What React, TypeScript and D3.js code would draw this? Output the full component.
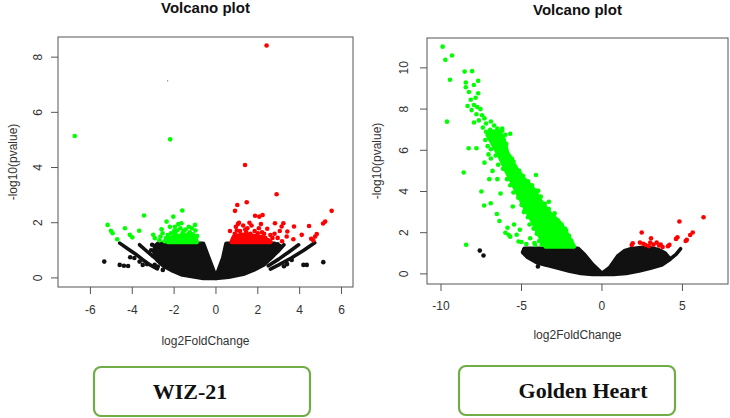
import React from "react";
import * as d3 from "d3";

type Pt = [number, number];

// ---------- WIZ-21 ----------
const wizTicksX = [-6, -4, -2, 0, 2, 4, 6];
const wizTicksY = [0, 2, 4, 6, 8];

// dense non-significant genes, outlined as regions
const wizBlackLeft: Pt[] = [
  [-0.62, 1.24], [-0.35, 0.7], [0, 0], [-0.6, 0.0], [-1.1, 0.06], [-1.6, 0.12],
  [-2.05, 0.26], [-2.45, 0.42], [-2.8, 0.66], [-2.95, 0.95], [-2.9, 1.15], [-2.75, 1.24],
];
const wizBlackRight: Pt[] = [
  [0, 0], [0.35, 0.72], [0.5, 1.24], [2.8, 1.24], [2.9, 1.08], [2.7, 0.8],
  [2.3, 0.5], [1.8, 0.3], [1.3, 0.15], [0.6, 0.04],
];
const wizStreaks: Pt[][] = [
  [[-4.6, 1.26], [-4.2, 1.05], [-3.85, 0.87], [-3.5, 0.66], [-3.15, 0.47], [-2.8, 0.33]],
  [[-3.65, 1.2], [-3.25, 0.93], [-2.85, 0.68], [-2.45, 0.4]],
  [[4.72, 1.27], [4.2, 1.0], [3.6, 0.72], [3.0, 0.47], [2.6, 0.32]],
  [[3.95, 1.2], [3.5, 0.95], [3.0, 0.68], [2.5, 0.44]],
  [[3.25, 1.2], [2.95, 0.95], [2.6, 0.7]],
];
const wizBlack: Pt[] = [
  [-5.34, 0.59], [-4.6, 0.47], [-4.4, 0.44], [-4.2, 0.43], [-3.65, 0.59], [-3.5, 0.47],
  [-2.93, 0.47], [-2.78, 0.41], [-2.54, 0.29], [-4.1, 0.75], [-3.9, 0.72], [-3.3, 0.5],
  [-3.05, 1.2], [-3.1, 1.0], [-3.0, 0.8],
  [5.13, 0.57], [4.18, 0.47], [4.34, 0.47], [3.62, 0.65], [3.4, 0.5], [3.25, 0.42],
  [3.05, 1.15], [2.95, 1.22],
];
const wizSpeck: Pt[] = [[-2.31, 7.14]];

const wizGreenCore: Pt[] = [
  [-2.3, 1.3], [-2.2, 1.45], [-1.8, 1.52], [-1.3, 1.52], [-0.98, 1.42], [-0.92, 1.3],
];
const wizGreen: Pt[] = [
  [-6.75, 5.14], [-2.19, 5.02], [-3.44, 2.26], [-1.61, 2.44],
  [-5.18, 1.92], [-5.02, 1.71], [-4.94, 1.62], [-4.72, 1.4], [-4.35, 1.8], [-4.12, 1.56],
  [-4.0, 1.47], [-3.67, 1.71], [-3.0, 1.56], [-2.92, 1.44],
  [-2.6, 1.76], [-2.55, 1.62], [-2.36, 2.04], [-2.04, 2.22], [-2.2, 1.85], [-1.96, 1.85],
  [-1.65, 1.98], [-2.39, 1.44], [-2.3, 1.55], [-2.15, 1.62], [-2.05, 1.45], [-1.95, 1.6],
  [-1.85, 1.72], [-1.75, 1.52], [-1.7, 1.38], [-1.6, 1.62], [-1.55, 1.48], [-1.45, 1.75],
  [-1.4, 1.55], [-1.35, 1.4], [-1.25, 1.65], [-1.2, 1.5], [-1.15, 1.36], [-1.1, 1.58],
  [-1.05, 1.45], [-1.0, 1.92], [-0.98, 1.72], [-0.95, 1.38], [-0.9, 1.52], [-1.3, 1.85],
  [-1.8, 1.95], [-2.1, 1.35], [-1.9, 1.35], [-1.5, 1.33], [-2.45, 1.33], [-2.65, 1.5],
  [-1.15, 1.8], [-2.7, 1.36], [-2.0, 1.7], [-1.55, 1.7], [-1.3, 1.6], [-1.7, 1.8],
];

const wizRedCore: Pt[] = [
  [0.75, 1.3], [0.85, 1.48], [1.2, 1.56], [1.8, 1.52], [2.3, 1.45], [2.6, 1.3],
];
const wizRed: Pt[] = [
  [2.42, 8.42], [1.39, 4.09], [2.9, 3.03], [1.47, 2.74], [1.02, 2.64], [0.91, 2.43],
  [5.53, 2.43], [1.87, 2.25], [2.07, 2.22], [2.23, 2.28], [0.67, 1.7], [5.22, 2.04],
  [5.12, 1.97], [4.82, 1.59], [4.74, 1.5], [4.45, 1.88], [4.1, 1.56], [3.73, 1.86],
  [3.41, 1.68], [3.22, 1.98], [3.14, 1.86], [2.82, 1.98], [3.05, 1.7], [3.38, 1.5],
  [3.16, 1.33], [3.7, 1.4], [4.55, 1.42], [4.65, 1.36], [2.6, 1.55], [2.45, 1.78],
  [2.3, 1.6], [0.85, 1.35], [0.9, 1.6], [0.95, 1.85], [1.05, 1.95], [1.1, 1.45],
  [1.15, 1.7], [1.25, 1.55], [1.3, 1.9], [1.35, 1.4], [1.45, 1.65], [1.5, 1.8],
  [1.55, 1.45], [1.65, 1.6], [1.7, 1.9], [1.75, 1.35], [1.85, 1.7], [1.95, 1.5],
  [2.05, 1.8], [2.1, 1.4], [2.2, 1.65], [2.35, 1.45], [2.5, 1.35], [2.7, 1.45],
  [2.8, 1.6], [1.4, 1.75], [1.6, 1.4], [1.0, 1.4], [1.2, 1.35], [1.9, 1.35],
  [2.15, 1.95], [2.95, 1.45], [1.1, 2.0], [1.6, 2.0], [1.0, 1.72], [2.0, 1.62],
];

// ---------- Golden Heart ----------
const ghTicksX = [-10, -5, 0, 5];
const ghTicksY = [0, 2, 4, 6, 8, 10];

const ghBlackLeft: Pt[] = [
  [0, 0], [-0.6, 0.45], [-1.1, 0.92], [-1.5, 1.22], [-3.6, 1.22], [-4.8, 1.22],
  [-4.9, 1.05], [-4.6, 0.82], [-4.0, 0.55], [-3.3, 0.42], [-2.7, 0.3], [-2.0, 0.15],
  [-1.3, 0.05], [-0.6, 0.0],
];
const ghBlackRight: Pt[] = [
  [0, 0], [0.5, 0.3], [1.0, 0.85], [1.4, 1.1], [1.8, 1.2], [2.4, 1.26], [3.0, 1.24],
  [3.5, 1.16], [3.9, 1.0], [4.2, 0.72], [3.7, 0.45], [3.0, 0.3], [2.3, 0.16],
  [1.5, 0.05], [0.7, 0.0],
];
const ghStreaks: Pt[][] = [
  [[-4.85, 1.2], [-4.4, 0.92], [-3.98, 0.6], [-3.5, 0.45]],
  [[3.6, 0.45], [4.2, 0.7], [4.6, 0.95], [4.88, 1.22]],
];
const ghBlack: Pt[] = [[-7.59, 1.13], [-7.36, 0.89], [-3.98, 0.36], [3.3, 0.44], [3.1, 0.4]];

const ghGreenCore: Pt[] = [
  [-6.9, 6.9], [-6.4, 6.9], [-6.1, 6.5], [-5.9, 5.9], [-5.4, 5.2], [-4.85, 4.6],
  [-4.3, 4.15], [-3.85, 3.55], [-3.25, 2.95], [-2.65, 2.5], [-2.2, 1.95], [-1.75, 1.33],
  [-3.5, 1.33], [-3.9, 1.9], [-4.3, 2.55], [-4.8, 3.25], [-5.35, 4.1], [-5.9, 4.95],
  [-6.35, 5.7], [-6.8, 6.35], [-7.1, 6.75],
];
const ghGreen: Pt[] = [
  [-9.9, 11.03], [-9.73, 10.39], [-9.32, 10.6], [-9.44, 9.42], [-9.63, 7.39],
  [-8.53, 9.82], [-8.07, 9.84], [-8.46, 9.29], [-8.46, 9.06], [-7.69, 9.37],
  [-7.96, 9.17], [-8.27, 8.83], [-7.69, 8.77], [-8.15, 8.45], [-7.85, 8.55],
  [-8.35, 8.15], [-7.95, 8.2], [-7.75, 8.1], [-7.55, 8.0], [-8.1, 7.95],
  [-7.8, 7.75], [-7.45, 7.7], [-7.65, 7.45], [-7.3, 7.55], [-7.95, 7.35],
  [-8.28, 6.1], [-8.59, 4.92], [-7.49, 4.0], [-7.32, 3.32], [-6.91, 3.43],
  [-7.0, 4.6], [-6.53, 2.91], [-6.37, 2.57], [-5.87, 2.24], [-8.44, 1.41],
  [-7.8, 6.1], [-7.3, 5.4], [-7.05, 5.8], [-6.8, 5.0], [-6.5, 4.6], [-6.3, 3.9],
  [-5.54, 3.27], [-5.46, 2.4], [-5.8, 1.9], [-5.7, 1.8], [-5.18, 1.57],
  [-5.1, 2.14], [-5.3, 1.9], [-5.0, 1.55], [-4.46, 1.73], [-4.7, 1.45],
  [-4.2, 1.5], [-6.0, 2.0], [-3.96, 4.03], [-2.94, 2.94], [-2.22, 2.1],
  [-3.3, 3.5], [-4.1, 4.8], [-5.7, 6.8], [-6.2, 6.3], [-6.9, 7.4], [-7.2, 6.9],
  [-6.7, 6.6], [-5.6, 5.6], [-5.2, 4.9], [-6.2, 7.05], [-6.0, 6.75], [-7.1, 6.2],
  [-6.9, 5.6], [-4.5, 3.7], [-4.8, 3.1], [-3.6, 2.2], [-4.0, 2.6],
  // ragged edges of the dense band
  [-6.2, 6.95], [-5.95, 6.3], [-5.75, 5.7], [-5.5, 5.45], [-5.15, 5.0], [-4.9, 4.75],
  [-4.6, 4.5], [-4.35, 4.3], [-4.1, 4.05], [-3.8, 3.75], [-3.55, 3.4], [-3.3, 3.15],
  [-3.0, 2.85], [-2.75, 2.6], [-2.5, 2.4], [-2.3, 2.2], [-2.05, 1.85], [-1.9, 1.6],
  [-7.25, 6.5], [-6.9, 6.05], [-6.6, 5.75], [-6.45, 5.3], [-6.15, 5.1], [-5.9, 4.6],
  [-5.7, 4.3], [-5.5, 3.95], [-5.2, 3.7], [-5.0, 3.35], [-4.85, 3.0], [-4.6, 2.75],
  [-4.5, 2.4], [-4.25, 2.2], [-4.05, 1.95], [-3.9, 1.6], [-3.75, 1.42], [-4.15, 1.42],
  [-7.4, 7.1], [-7.2, 7.3], [-6.95, 7.0], [-6.7, 7.2], [-6.5, 7.05], [-6.35, 6.85],
  [-7.0, 6.6], [-6.6, 6.5],
];
const ghRed: Pt[] = [
  [6.31, 2.75], [4.81, 2.54], [5.64, 2.01], [5.48, 1.89], [5.27, 1.65], [5.2, 1.6],
  [4.69, 1.78], [4.6, 1.7], [4.19, 1.41], [4.1, 1.34], [2.47, 2.01], [1.91, 1.49],
  [1.85, 1.4], [2.36, 1.52], [2.57, 1.46], [3.05, 1.73], [3.0, 1.52], [3.2, 1.42],
  [3.4, 1.52], [3.55, 1.38], [3.77, 1.3], [3.65, 1.42], [2.9, 1.35], [2.7, 1.4],
];

const GREEN = "#00ff00";
const RED = "#ff0000";
const INK = "#111";
const AXIS = "#555";
const R = 2.3;
const STREAK_W = 3.6;

interface PanelProps {
  box: { x0: number; x1: number; y0: number; y1: number };
  xDomain: [number, number];
  yDomain: [number, number];
  xTicks: number[];
  yTicks: number[];
  titleY: number;
  xTickY: number;
  xTitleY: number;
  yTickGap: number;
  yTitleX: number;
  black: Pt[][];
  streaks: Pt[][];
  blackPts: Pt[];
  cores: { pts: Pt[]; color: string }[];
  dots: { pts: Pt[]; color: string }[];
  specks?: Pt[];
}

const Panel: React.FC<PanelProps> = (p) => {
  const { box } = p;
  const x = d3.scaleLinear().domain(p.xDomain).range([box.x0, box.x1]);
  const y = d3.scaleLinear().domain(p.yDomain).range([box.y1, box.y0]);
  const closed = d3
    .line<Pt>()
    .x((d) => x(d[0]))
    .y((d) => y(d[1]))
    .curve(d3.curveLinearClosed);
  const open = d3
    .line<Pt>()
    .x((d) => x(d[0]))
    .y((d) => y(d[1]));
  const cx = (box.x0 + box.x1) / 2;
  const cy = (box.y0 + box.y1) / 2;

  return (
    <g fontFamily="'Liberation Sans', Arial, sans-serif">
      <text x={cx} y={p.titleY} textAnchor="middle" fontWeight="bold" fontSize={15} fill="#111">
        Volcano plot
      </text>

      {/* black mass */}
      {p.black.map((poly, i) => (
        <path key={`b${i}`} d={closed(poly)!} fill={INK} stroke={INK} strokeWidth={2 * R} strokeLinejoin="round" />
      ))}
      {p.streaks.map((s, i) => (
        <path key={`s${i}`} d={open(s)!} fill="none" stroke={INK} strokeWidth={STREAK_W} strokeLinecap="round" strokeLinejoin="round" />
      ))}
      {p.blackPts.map((d, i) => (
        <circle key={`k${i}`} cx={x(d[0])} cy={y(d[1])} r={R} fill={INK} />
      ))}
      {(p.specks || []).map((d, i) => (
        <circle key={`sp${i}`} cx={x(d[0])} cy={y(d[1])} r={0.7} fill="#666" />
      ))}

      {/* significant genes */}
      {p.cores.map((c, i) => (
        <path key={`c${i}`} d={closed(c.pts)!} fill={c.color} stroke={c.color} strokeWidth={2 * R} strokeLinejoin="round" />
      ))}
      {p.dots.map((g, gi) =>
        g.pts.map((d, i) => (
          <circle key={`d${gi}-${i}`} cx={x(d[0])} cy={y(d[1])} r={R} fill={g.color} />
        ))
      )}

      <rect x={box.x0} y={box.y0} width={box.x1 - box.x0} height={box.y1 - box.y0} fill="none" stroke={AXIS} strokeWidth={1} />

      {/* bottom axis */}
      {p.xTicks.map((t) => (
        <g key={`xt${t}`}>
          <line x1={x(t)} x2={x(t)} y1={box.y1} y2={box.y1 + 7} stroke={AXIS} />
          <text x={x(t)} y={p.xTickY} textAnchor="middle" dominantBaseline="central" fontSize={12} fill="#333">
            {t}
          </text>
        </g>
      ))}
      <text x={cx} y={p.xTitleY} textAnchor="middle" dominantBaseline="central" fontSize={12} fill="#333">
        log2FoldChange
      </text>

      {/* left axis */}
      {p.yTicks.map((t) => (
        <g key={`yt${t}`}>
          <line x1={box.x0 - 7} x2={box.x0} y1={y(t)} y2={y(t)} stroke={AXIS} />
          <text
            transform={`translate(${box.x0 - p.yTickGap},${y(t)}) rotate(-90)`}
            textAnchor="middle"
            dominantBaseline="central"
            fontSize={12}
            fill="#333"
          >
            {t}
          </text>
        </g>
      ))}
      <text
        transform={`translate(${p.yTitleX},${cy}) rotate(-90)`}
        textAnchor="middle"
        dominantBaseline="central"
        fontSize={12}
        fill="#333"
      >
        -log10(pvalue)
      </text>
    </g>
  );
};

const LabelBox: React.FC<{ x: number; y: number; w: number; h: number; tx: number; label: string }> = ({
  x, y, w, h, tx, label,
}) => (
  <g>
    <rect x={x} y={y} width={w} height={h} rx={7} fill="#fff" stroke="#70ad47" strokeWidth={2.2} />
    <text
      x={tx}
      y={y + h / 2 + 7}
      textAnchor="middle"
      fontFamily="'Liberation Serif', 'Times New Roman', serif"
      fontWeight="bold"
      fontSize={22}
      fill="#111"
    >
      {label}
    </text>
  </g>
);

export default function App() {
  return (
    <svg
      width={730}
      height={418}
      style={{ position: "absolute", left: 0, top: 0, background: "#fff" }}
    >
      <rect width={730} height={418} fill="#fff" />
      <Panel
        box={{ x0: 58, x1: 353, y0: 37, y1: 287 }}
        xDomain={[-7.55, 6.55]}
        yDomain={[-0.33, 8.73]}
        xTicks={wizTicksX}
        yTicks={wizTicksY}
        titleY={13}
        xTickY={310}
        xTitleY={341}
        yTickGap={20}
        yTitleX={13}
        black={[wizBlackLeft, wizBlackRight]}
        streaks={wizStreaks}
        blackPts={wizBlack}
        specks={wizSpeck}
        cores={[
          { pts: wizGreenCore, color: GREEN },
          { pts: wizRedCore, color: RED },
        ]}
        dots={[
          { pts: wizGreen, color: GREEN },
          { pts: wizRed, color: RED },
        ]}
      />
      <Panel
        box={{ x0: 427, x1: 728, y0: 38, y1: 284 }}
        xDomain={[-10.87, 7.83]}
        yDomain={[-0.49, 11.45]}
        xTicks={ghTicksX}
        yTicks={ghTicksY}
        titleY={15}
        xTickY={306}
        xTitleY={335}
        yTickGap={23}
        yTitleX={377}
        black={[ghBlackLeft, ghBlackRight]}
        streaks={ghStreaks}
        blackPts={ghBlack}
        cores={[{ pts: ghGreenCore, color: GREEN }]}
        dots={[
          { pts: ghGreen, color: GREEN },
          { pts: ghRed, color: RED },
        ]}
      />
      <LabelBox x={94} y={367} w={216} h={49} tx={190} label="WIZ-21" />
      <LabelBox x={459} y={366} w={216} h={49} tx={583} label="Golden Heart" />
    </svg>
  );
}
